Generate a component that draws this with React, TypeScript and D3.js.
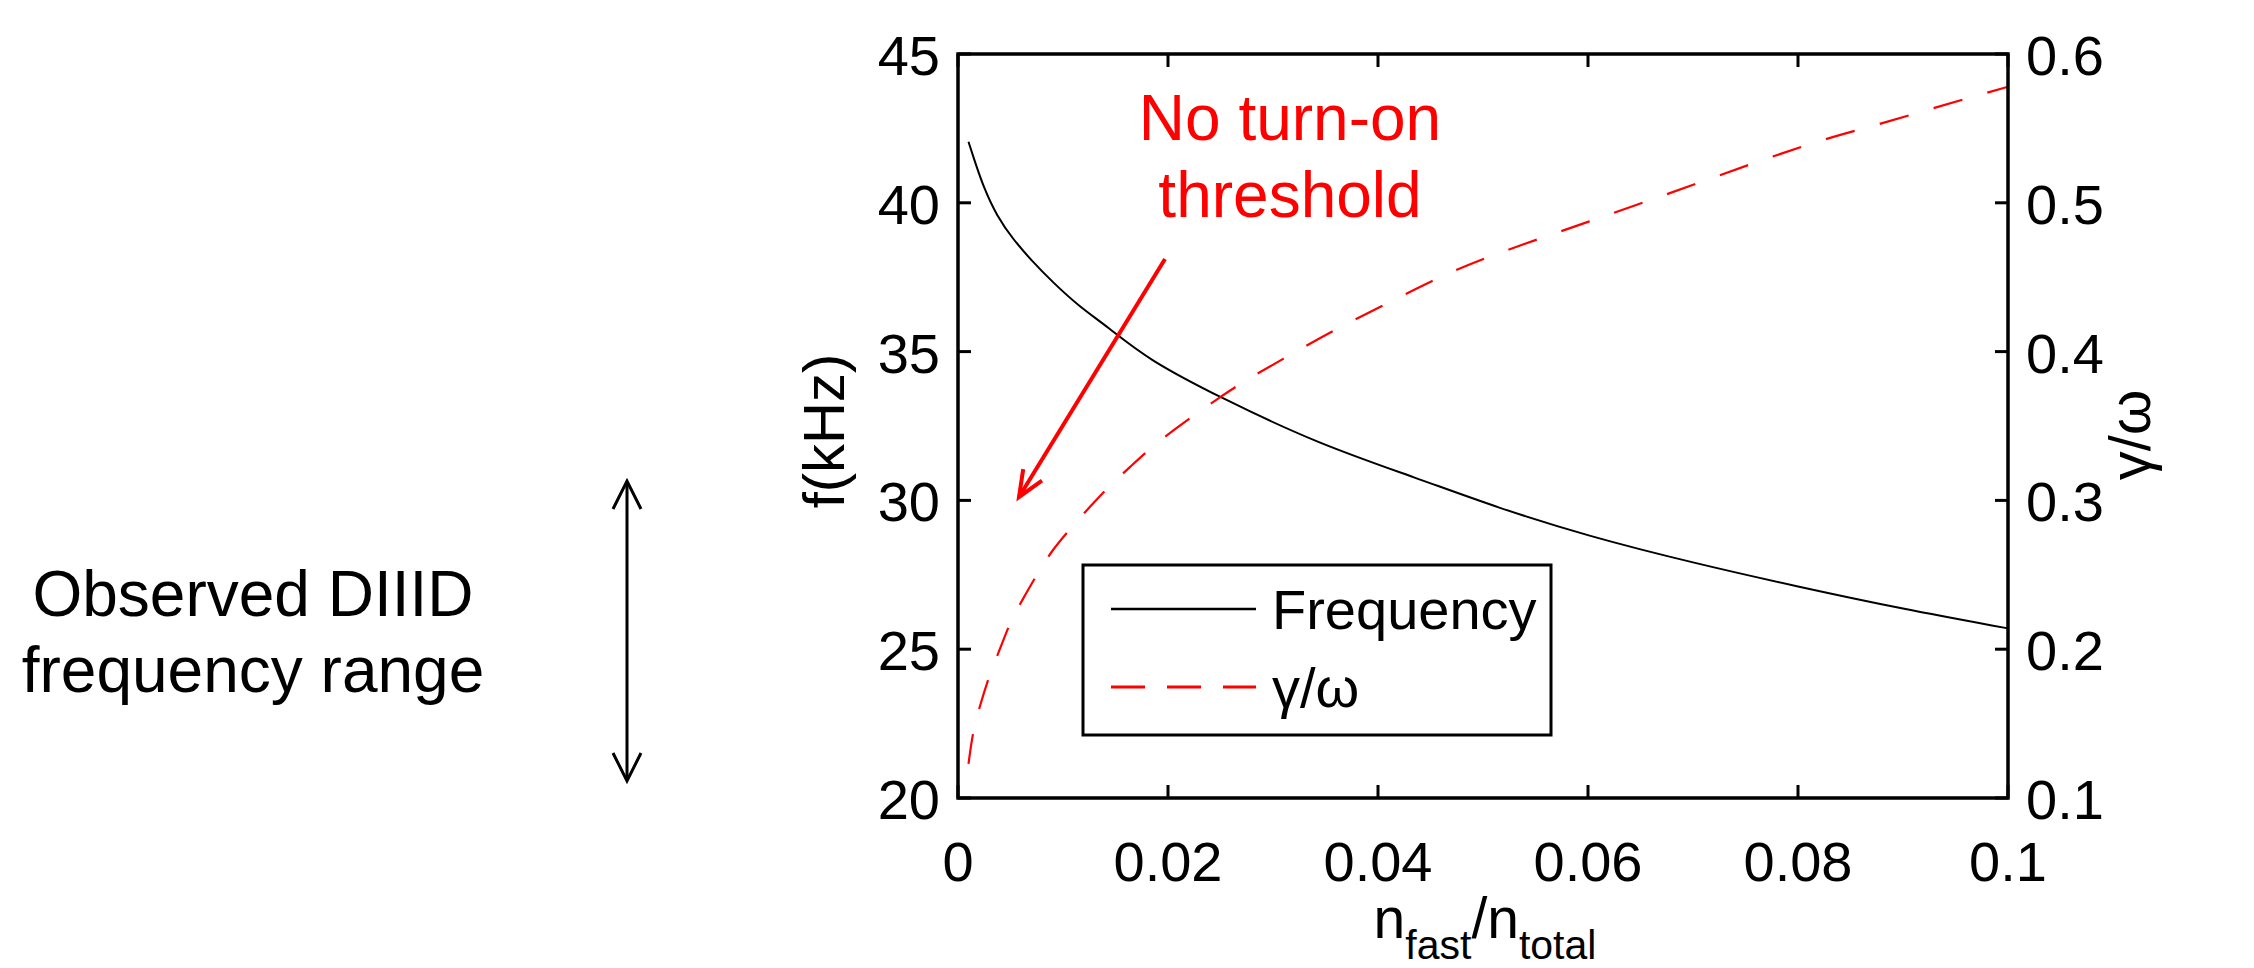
import React from "react";
import * as d3 from "d3";

// n_fast / n_total
const freqX = [0.001, 0.0015, 0.0024, 0.0037, 0.0053, 0.0069, 0.0091, 0.0116, 0.0142, 0.018, 0.025, 0.0343, 0.0437, 0.0514, 0.06, 0.07, 0.08, 0.09, 0.1];
// f (kHz)
const freqY = [42.05, 41.5, 40.55, 39.55, 38.75, 38.1, 37.3, 36.5, 35.85, 34.75, 33.45, 31.9, 30.75, 29.75, 28.8, 27.9, 27.1, 26.35, 25.7];

const gammaX = [0.001, 0.0014, 0.002, 0.003, 0.004, 0.005, 0.0062, 0.0075, 0.009, 0.0107, 0.0126, 0.0143, 0.0164, 0.0183, 0.0205, 0.0228, 0.025, 0.0271, 0.0307, 0.0354, 0.0402, 0.0452, 0.05, 0.06, 0.07, 0.0814, 0.0869, 0.0923, 0.0975, 0.1];
// gamma / omega
const gammaY = [0.123, 0.144, 0.16, 0.183, 0.2, 0.219, 0.234, 0.25, 0.267, 0.281, 0.296, 0.309, 0.3225, 0.335, 0.347, 0.359, 0.3695, 0.3796, 0.394, 0.413, 0.43, 0.448, 0.463, 0.487, 0.512, 0.541, 0.551, 0.5624, 0.573, 0.578];

const xTicks = [0, 0.02, 0.04, 0.06, 0.08, 0.1];
const xTickLabels = ["0", "0.02", "0.04", "0.06", "0.08", "0.1"];
const fTicks = [20, 25, 30, 35, 40, 45];
const gTicks = [0.1, 0.2, 0.3, 0.4, 0.5, 0.6];
const gTickLabels = ["0.1", "0.2", "0.3", "0.4", "0.5", "0.6"];

const FONT = "'Liberation Sans', Arial, Helvetica, sans-serif";
const RED = "#ff0000";

export default function App() {
  const W = 2254;
  const H = 968;
  const L = 958, R = 2008, T = 54, B = 798;
  const TICK = 13;

  const x = d3.scaleLinear().domain([0, 0.1]).range([L, R]);
  const yF = d3.scaleLinear().domain([20, 45]).range([B, T]);
  const yG = d3.scaleLinear().domain([0.1, 0.6]).range([B, T]);

  const freqLine = d3
    .line<number>()
    .x((d, i) => x(freqX[i]))
    .y((d) => yF(d))
    .curve(d3.curveBasis);
  const gammaLine = d3
    .line<number>()
    .x((d, i) => x(gammaX[i]))
    .y((d) => yG(d))
    .curve(d3.curveBasis);

  // red annotation arrow
  const a0 = [1165, 259];
  const a1 = [1019, 497];
  const dx = a1[0] - a0[0], dy = a1[1] - a0[1];
  const len = Math.hypot(dx, dy);
  const ux = dx / len, uy = dy / len;
  const bx = a1[0] - 26 * ux, by = a1[1] - 26 * uy;
  const px = -uy * 11, py = ux * 11;

  const tickFont = 56;

  return (
    <svg
      width={W}
      height={H}
      style={{ position: "absolute", left: 0, top: 0, background: "#fff" }}
      fontFamily={FONT}
    >
      <rect x={0} y={0} width={W} height={H} fill="#fff" />

      {/* curves */}
      <path d={freqLine(freqY) || ""} fill="none" stroke="#000" strokeWidth={2} />
      <path d={gammaLine(gammaY) || ""} fill="none" stroke={RED} strokeWidth={2.2} strokeDasharray="30,26" />

      {/* axes box */}
      <rect x={L} y={T} width={R - L} height={B - T} fill="none" stroke="#000" strokeWidth={3.5} />

      {/* x ticks */}
      {xTicks.map((t, i) => (
        <g key={"x" + i}>
          <line x1={x(t)} x2={x(t)} y1={B} y2={B - TICK} stroke="#000" strokeWidth={3} />
          <line x1={x(t)} x2={x(t)} y1={T} y2={T + TICK} stroke="#000" strokeWidth={3} />
          <text x={x(t)} y={B + 83} fontSize={tickFont} textAnchor="middle">
            {xTickLabels[i]}
          </text>
        </g>
      ))}

      {/* left ticks */}
      {fTicks.map((t) => (
        <g key={"f" + t}>
          <line x1={L} x2={L + TICK} y1={yF(t)} y2={yF(t)} stroke="#000" strokeWidth={3} />
          <text x={L - 18} y={yF(t) + 21} fontSize={tickFont} textAnchor="end">
            {t}
          </text>
        </g>
      ))}

      {/* right ticks */}
      {gTicks.map((t, i) => (
        <g key={"g" + i}>
          <line x1={R} x2={R - TICK} y1={yG(t)} y2={yG(t)} stroke="#000" strokeWidth={3} />
          <text x={R + 18} y={yG(t) + 21} fontSize={tickFont} textAnchor="start">
            {gTickLabels[i]}
          </text>
        </g>
      ))}

      {/* axis labels */}
      <text transform="translate(844,431) rotate(-90)" fontSize={58} textAnchor="middle">
        f(kHz)
      </text>
      <text transform="translate(2150,435) rotate(-90)" fontSize={58} textAnchor="middle">
        γ/ω
      </text>
      <text x={1485} y={938} fontSize={57} textAnchor="middle">
        n
        <tspan fontSize={41} dy={21}>fast</tspan>
        <tspan dy={-21}>/n</tspan>
        <tspan fontSize={41} dy={21}>total</tspan>
      </text>

      {/* legend */}
      <rect x={1083} y={565} width={468} height={170} fill="#fff" stroke="#000" strokeWidth={3} />
      <line x1={1111} x2={1256} y1={609} y2={609} stroke="#000" strokeWidth={2.5} />
      <text x={1272} y={629} fontSize={tickFont}>Frequency</text>
      <line x1={1111} x2={1256} y1={687} y2={687} stroke={RED} strokeWidth={3} strokeDasharray="34,22" />
      <text x={1272} y={707} fontSize={tickFont}>γ/ω</text>

      {/* annotation */}
      <text x={1290} y={140} fontSize={64} fill={RED} textAnchor="middle">No turn-on</text>
      <text x={1290} y={217} fontSize={64} fill={RED} textAnchor="middle">threshold</text>
      <line x1={a0[0]} y1={a0[1]} x2={a1[0]} y2={a1[1]} stroke={RED} strokeWidth={4} />
      <polyline
        points={`${bx + px},${by + py} ${a1[0]},${a1[1]} ${bx - px},${by - py}`}
        fill="none"
        stroke={RED}
        strokeWidth={4}
      />

      {/* observed range */}
      <text x={253} y={616} fontSize={64} textAnchor="middle">Observed DIIID</text>
      <text x={253} y={692} fontSize={64} textAnchor="middle">frequency range</text>
      <line x1={627} x2={627} y1={482} y2={780} stroke="#000" strokeWidth={3} />
      <polyline points="613,509 627,481 641,509" fill="none" stroke="#000" strokeWidth={3} />
      <polyline points="613,753 627,781 641,753" fill="none" stroke="#000" strokeWidth={3} />
    </svg>
  );
}
